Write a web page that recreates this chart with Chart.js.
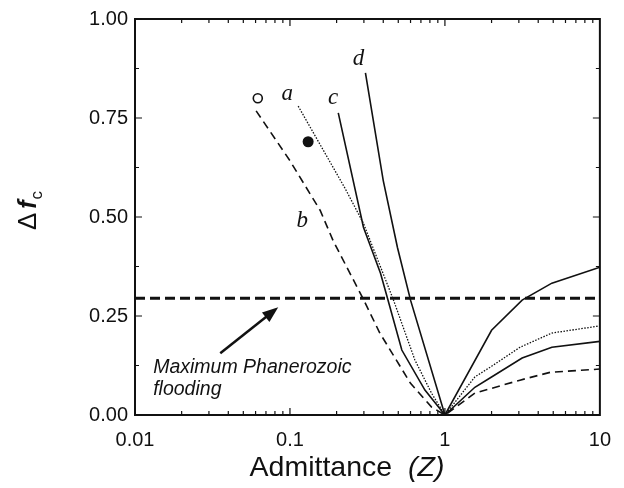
<!DOCTYPE html>
<html>
<head>
<meta charset="utf-8">
<script src="https://cdn.jsdelivr.net/npm/chart.js@4.4.1/dist/chart.umd.min.js"></script>
<style>
  html, body { margin: 0; padding: 0; background: #fff; }
</style>
</head>
<body>
<canvas id="fcChart" width="624" height="488"></canvas>
<script>
// curve a (dotted)
const aX = [0.113, 0.227, 0.298, 0.466, 0.64, 0.82, 1, 1.56, 2, 3.05, 4.9, 10];
const aY = [0.78, 0.572, 0.484, 0.29, 0.139, 0.055, 0, 0.096, 0.123, 0.171, 0.207, 0.225];
// curve b (dashed)
const bX = [0.0605, 0.1, 0.157, 0.19, 0.298, 0.38, 0.6, 0.82, 1, 1.56, 3.05, 4.8, 10];
const bY = [0.768, 0.642, 0.516, 0.44, 0.292, 0.207, 0.08, 0.02, 0, 0.055, 0.088, 0.108, 0.116];
// curve c (solid)
const cX = [0.205, 0.298, 0.384, 0.426, 0.527, 0.743, 1, 1.56, 2, 3.15, 4.9, 10];
const cY = [0.763, 0.474, 0.358, 0.295, 0.164, 0.063, 0, 0.07, 0.096, 0.144, 0.171, 0.186];
// curve d (solid)
const dX = [0.307, 0.4, 0.494, 0.6, 1, 2, 3.15, 4.9, 10];
const dY = [0.864, 0.592, 0.423, 0.29, 0, 0.214, 0.29, 0.333, 0.373];
// single observations
const openPoint = [0.062, 0.80];
const filledPoint = [0.131, 0.69];
// maximum Phanerozoic flooding level
const floodLevel = 0.295;
const xTickLabels = [0.01, 0.1, 1, 10];
const yTickLabels = [0, 0.25, 0.5, 0.75, 1];

const pts = (xs, ys) => xs.map((x, i) => ({ x: x, y: ys[i] }));

const curveLabels = [
  { text: 'a', x: 0.096, y: 0.81 },
  { text: 'b', x: 0.12, y: 0.49 },
  { text: 'c', x: 0.19, y: 0.80 },
  { text: 'd', x: 0.277, y: 0.90 }
];

const sansFont = '"Liberation Sans", Arial, Helvetica, sans-serif';

const framePlugin = {
  id: 'frame',
  afterDatasetsDraw(chart) {
    const { ctx, chartArea: ca, scales: { x, y } } = chart;
    ctx.save();
    ctx.strokeStyle = '#111';
    ctx.fillStyle = '#111';

    // curve letters
    ctx.font = 'italic 23px "Liberation Serif", "Times New Roman", serif';
    ctx.textAlign = 'center';
    ctx.textBaseline = 'middle';
    curveLabels.forEach(l => {
      ctx.fillText(l.text, x.getPixelForValue(l.x), y.getPixelForValue(l.y));
    });

    // annotation text + arrow
    ctx.font = 'italic 19.5px ' + sansFont;
    ctx.textAlign = 'left';
    ctx.textBaseline = 'middle';
    const tx = x.getPixelForValue(0.0131);
    ctx.fillText('Maximum Phanerozoic', tx, y.getPixelForValue(0.12));
    ctx.fillText('flooding', tx, y.getPixelForValue(0.065));

    const x0 = x.getPixelForValue(0.0355), y0 = y.getPixelForValue(0.156);
    const x1 = x.getPixelForValue(0.084), y1 = y.getPixelForValue(0.272);
    const ang = Math.atan2(y1 - y0, x1 - x0);
    ctx.lineWidth = 2.5;
    ctx.beginPath();
    ctx.moveTo(x0, y0);
    ctx.lineTo(x1 - 10 * Math.cos(ang), y1 - 10 * Math.sin(ang));
    ctx.stroke();
    ctx.beginPath();
    ctx.moveTo(x1, y1);
    ctx.lineTo(x1 - 16 * Math.cos(ang) + 6 * Math.sin(ang), y1 - 16 * Math.sin(ang) - 6 * Math.cos(ang));
    ctx.lineTo(x1 - 16 * Math.cos(ang) - 6 * Math.sin(ang), y1 - 16 * Math.sin(ang) + 6 * Math.cos(ang));
    ctx.closePath();
    ctx.fill();

    // frame
    ctx.lineWidth = 2;
    ctx.strokeRect(ca.left, ca.top, ca.right - ca.left, ca.bottom - ca.top);

    // inward ticks on all four sides
    ctx.lineWidth = 1.2;
    ctx.beginPath();
    for (let e = -2; e < 1; e++) {
      for (let m = 1; m < 10; m++) {
        const px = x.getPixelForValue(m * Math.pow(10, e));
        const len = m === 1 ? 7 : 4;
        ctx.moveTo(px, ca.bottom); ctx.lineTo(px, ca.bottom - len);
        ctx.moveTo(px, ca.top); ctx.lineTo(px, ca.top + len);
      }
    }
    for (let v = 0; v <= 1.0001; v += 0.125) {
      const py = y.getPixelForValue(v);
      const len = Math.abs(v * 4 - Math.round(v * 4)) < 1e-6 ? 7 : 4;
      ctx.moveTo(ca.left, py); ctx.lineTo(ca.left + len, py);
      ctx.moveTo(ca.right, py); ctx.lineTo(ca.right - len, py);
    }
    ctx.stroke();

    // x axis title
    ctx.textBaseline = 'alphabetic';
    ctx.textAlign = 'left';
    const t1 = 'Admittance  ';
    ctx.font = '28.5px ' + sansFont;
    const w1 = ctx.measureText(t1).width;
    ctx.font = 'italic 28.5px ' + sansFont;
    const w2 = ctx.measureText('(Z)').width;
    const startX = 347 - (w1 + w2) / 2;
    ctx.font = '28.5px ' + sansFont;
    ctx.fillText(t1, startX, 476);
    ctx.font = 'italic 28.5px ' + sansFont;
    ctx.fillText('(Z)', startX + w1, 476);

    // y axis title
    ctx.translate(36, 211);
    ctx.rotate(-Math.PI / 2);
    ctx.font = '26px ' + sansFont;
    const wd = ctx.measureText('\u0394').width + 4;
    ctx.font = 'italic bold 25px ' + sansFont;
    const wf = ctx.measureText('f').width;
    ctx.font = '17px ' + sansFont;
    const wc = ctx.measureText('c').width;
    const sx = -(wd + wf + wc) / 2;
    ctx.font = '26px ' + sansFont;
    ctx.fillText('\u0394', sx, 0);
    ctx.font = 'italic bold 25px ' + sansFont;
    ctx.fillText('f', sx + wd, 0);
    ctx.font = '17px ' + sansFont;
    ctx.fillText('c', sx + wd + wf + 1, 6);
    ctx.restore();
  }
};

const lineBase = { borderColor: '#111', pointRadius: 0, tension: 0, fill: false };

new Chart(document.getElementById('fcChart'), {
  type: 'line',
  data: {
    datasets: [
      Object.assign({ label: 'flood', data: pts([0.01, 10], [floodLevel, floodLevel]), borderWidth: 3, borderDash: [10, 5] }, lineBase),
      Object.assign({ label: 'a', data: pts(aX, aY), borderWidth: 1.3, borderDash: [1.5, 1.5] }, lineBase),
      Object.assign({ label: 'b', data: pts(bX, bY), borderWidth: 1.6, borderDash: [8, 5] }, lineBase),
      Object.assign({ label: 'c', data: pts(cX, cY), borderWidth: 1.6 }, lineBase),
      Object.assign({ label: 'd', data: pts(dX, dY), borderWidth: 1.6 }, lineBase),
      { label: 'open', data: [{ x: openPoint[0], y: openPoint[1] }], showLine: false,
        pointRadius: 4.5, pointBorderWidth: 1.6, pointBorderColor: '#111', pointBackgroundColor: '#fff' },
      { label: 'filled', data: [{ x: filledPoint[0], y: filledPoint[1] }], showLine: false,
        pointRadius: 5.5, pointBorderWidth: 0, pointBackgroundColor: '#111' }
    ]
  },
  options: {
    responsive: false,
    animation: false,
    devicePixelRatio: 1,
    layout: { padding: { top: 18, right: 24, left: 0, bottom: 0 } },
    plugins: { legend: { display: false }, tooltip: { enabled: false } },
    scales: {
      x: {
        type: 'logarithmic',
        min: 0.01,
        max: 10,
        grid: { display: false, drawTicks: false },
        border: { display: false },
        afterBuildTicks: axis => { axis.ticks = xTickLabels.map(v => ({ value: v })); },
        afterFit: axis => { axis.height = 73; },
        ticks: {
          autoSkip: false,
          maxRotation: 0,
          padding: 13,
          color: '#111',
          font: { size: 20, family: sansFont },
          callback: v => String(v)
        }
      },
      y: {
        min: 0,
        max: 1,
        grid: { display: false, drawTicks: false },
        border: { display: false },
        afterBuildTicks: axis => { axis.ticks = yTickLabels.map(v => ({ value: v })); },
        afterFit: axis => { axis.width = 135; },
        ticks: {
          padding: 7,
          color: '#111',
          font: { size: 20, family: sansFont },
          callback: v => Number(v).toFixed(2)
        }
      }
    }
  },
  plugins: [framePlugin]
});
</script>
</body>
</html>
